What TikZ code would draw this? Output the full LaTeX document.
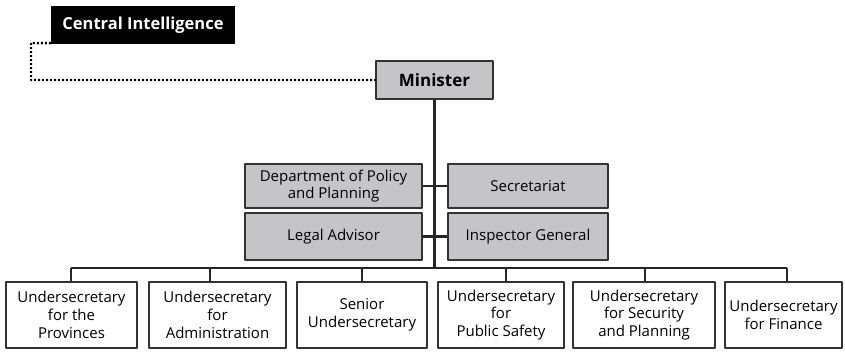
\documentclass[tikz,border=0pt]{standalone}
\usepackage{fontspec}
\setmainfont{Open Sans}
\usetikzlibrary{positioning}
\definecolor{boxgray}{HTML}{C5C5C7}
\definecolor{edgegray}{HTML}{333333}
\tikzset{
  officebox/.style={draw=edgegray, line width=1.5pt, fill=white, align=center, inner sep=0pt, minimum height=66pt},
  staffbox/.style={draw=edgegray, line width=1.5pt, fill=boxgray, align=center, inner sep=0pt},
  blackbox/.style={fill=black, text=white, font=\fontsize{16.5}{19}\selectfont\bfseries, inner sep=0pt, minimum width=184pt, minimum height=38pt},
  link/.style={line width=2.4pt, draw=black!85}
}
\begin{document}
\begin{tikzpicture}[x=1pt,y=-1pt, font=\fontsize{15}{17.7}\selectfont, line join=round]
				\useasboundingbox (0,0) rectangle (845,351);
				% top
				\node[blackbox] (ci) at (143,25) {Central Intelligence};
				\node[staffbox, minimum width=117pt, minimum height=38pt, font=\fontsize{17}{19}\selectfont\bfseries] (min) at (434.5,80) {Minister};
				% staff offices
				\node[staffbox, minimum width=177pt, minimum height=44pt] (dept) at (333.5,186) {Department of Policy\\and Planning};
				\node[staffbox, minimum width=160pt, minimum height=44pt] (sec) at (528,186) {Secretariat};
				\node[staffbox, minimum width=177pt, minimum height=47pt] (legal) at (333.5,236.5) {Legal Advisor};
				\node[staffbox, minimum width=160pt, minimum height=47pt] (insp) at (528,236.5) {Inspector General};
				% undersecretaries
				\node[officebox, minimum width=131pt] (us1) at (71.5,315) {Undersecretary\\for the\\Provinces};
				\node[officebox, minimum width=137pt] (us2) at (217.5,315) {Undersecretary\\for\\Administration};
				\node[officebox, minimum width=130pt] (us3) at (362,315) {Senior\\Undersecretary};
				\node[officebox, minimum width=126pt] (us4) at (501,315) {Undersecretary\\for\\Public Safety};
				\node[officebox, minimum width=142pt] (us5) at (644,315) {Undersecretary\\for Security\\and Planning};
				\node[officebox, minimum width=117pt] (us6) at (783.5,315) {Undersecretary\\for Finance};
				\coordinate (bar) at (434.5,268);
				\coordinate (citurn) at (31,43);
				% lines
				\draw[line width=2.4pt, dash pattern=on 2pt off 2pt] (ci.south west) ++(0,-1) -- (citurn) |- (min.west);
				\draw[link] (min.south) -- (bar);
				\draw[link] (dept.east) -- (sec.west);
				\draw[link] (legal.east) -- (insp.west);
				\draw[link] ([xshift=-0.5pt]us1.north |- bar) -- ([xshift=3.5pt]us6.north |- bar);
				\foreach \n/\d in {us1/-0.5,us2/-7.5,us3/0,us4/5,us5/1,us6/3.5}
					\draw[link] ([xshift=\d pt]\n.north |- bar) -- ([xshift=\d pt]\n.north);
		\end{tikzpicture}
\end{document}
